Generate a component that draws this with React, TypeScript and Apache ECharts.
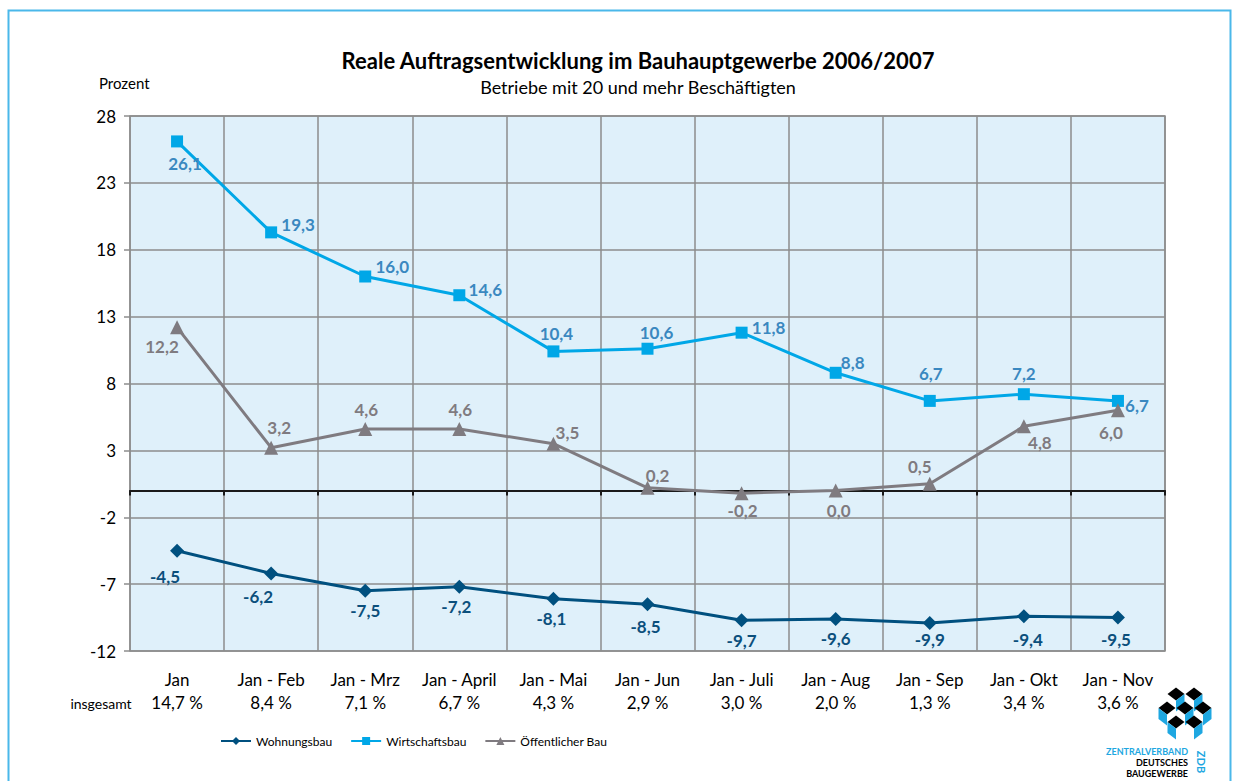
import React, { useEffect, useRef } from "react";
import * as echarts from "echarts";

const categories = ["Jan", "Jan - Feb", "Jan - Mrz", "Jan - April", "Jan - Mai", "Jan - Jun", "Jan - Juli", "Jan - Aug", "Jan - Sep", "Jan - Okt", "Jan - Nov"];
const totals = ["14,7 %", "8,4 %", "7,1 %", "6,7 %", "4,3 %", "2,9 %", "3,0 %", "2,0 %", "1,3 %", "3,4 %", "3,6 %"];
const wohnungsbau = [-4.5, -6.2, -7.5, -7.2, -8.1, -8.5, -9.7, -9.6, -9.9, -9.4, -9.5];
const wirtschaftsbau = [26.1, 19.3, 16.0, 14.6, 10.4, 10.6, 11.8, 8.8, 6.7, 7.2, 6.7];
const oeffentlich = [12.2, 3.2, 4.6, 4.6, 3.5, 0.2, -0.2, 0.0, 0.5, 4.8, 6.0];

// label offsets (styling only)
const wohnOffsets = [[-12, 26], [-13, 23], [0, 20], [-3, 20], [-2, 20], [-2, 22], [0, 20], [0, 20], [0, 17], [4, 23], [-2, 22]];
const wirtOffsets = [[8, 22], [27, -8], [27, -10], [26, -6], [3, -18], [9, -16], [27, -5], [17, -10], [1, -27], [0, -21], [19, 5]];
const oeffOffsets = [[-15, 19], [8, -20], [1, -19], [1, -19], [14, -11], [10, -12], [1, 17], [3, 20], [-10, -17], [16, 16], [-7, 22]];

const FONT = "Lato, 'Open Sans', sans-serif";
const fmt = (v: number) => v.toFixed(1).replace(".", ",");

function mkData(vals: number[], offs: number[][], color: string) {
  return vals.map((v, i) => ({
    value: v,
    label: {
      show: true,
      position: "inside",
      offset: offs[i],
      color,
      fontWeight: "bold",
      fontSize: 17,
      fontFamily: FONT,
      formatter: (p: any) => fmt(p.value),
    },
  }));
}

function cube(cx: number, cy: number, rightBlue: boolean) {
  const w = 8.5, h = 6.5, d = 11;
  return [
    { type: "polygon", shape: { points: [[cx - w, cy], [cx, cy - h], [cx + w, cy], [cx, cy + h]] }, style: { fill: "#000" } },
    {
      type: "polygon",
      shape: { points: rightBlue ? [[cx, cy + h], [cx + w, cy], [cx + w, cy + d], [cx, cy + h + d]] : [[cx - w, cy], [cx, cy + h], [cx, cy + h + d], [cx - w, cy + d]] },
      style: { fill: "#1ea7e1" },
    },
  ];
}

export default function App() {
  const ref = useRef<HTMLDivElement>(null);
  useEffect(() => {
    const chart = echarts.init(ref.current!, null, { renderer: "svg" });
    const logo = [
      ...cube(1176, 694, true),
      ...cube(1194, 694, true),
      ...cube(1167, 708, false),
      ...cube(1185, 708, true),
      ...cube(1203, 708, true),
      ...cube(1176, 722, false),
      ...cube(1194, 722, true),
    ];
    chart.setOption({
      animation: false,
      backgroundColor: "#fff",
      textStyle: { fontFamily: FONT },
      grid: {
        left: 130, right: 70, top: 116, bottom: 130,
        show: true, backgroundColor: "#dff0fa", borderColor: "#8c8c8c", borderWidth: 1.5,
      },
      legend: {
        left: 215, top: 730, itemWidth: 30, itemHeight: 10, itemGap: 18,
        textStyle: { fontSize: 12, color: "#000", fontFamily: FONT },
        data: ["Wohnungsbau", "Wirtschaftsbau", "Öffentlicher Bau"],
      },
      xAxis: [
        {
          type: "category", data: categories, position: "bottom",
          axisLine: { onZero: true, lineStyle: { color: "#1a1a1a", width: 2 } },
          axisTick: { show: true, length: 5, interval: 0, lineStyle: { color: "#1a1a1a", width: 2 } },
          axisLabel: { show: false },
          splitLine: { show: true, interval: 0, lineStyle: { color: "#8c8c8c", width: 1.5 } },
          z: 3,
        },
        {
          type: "category", data: categories, position: "bottom",
          axisLine: { show: false, onZero: false },
          axisTick: { show: false },
          splitLine: { show: false },
          axisLabel: {
            interval: 0, hideOverlap: false,
            margin: 17, fontSize: 17, color: "#000", lineHeight: 23, fontFamily: FONT,
            formatter: (v: string, i: number) => v + "\n" + totals[i],
          },
        },
      ],
      yAxis: {
        type: "value", min: -12, max: 28, interval: 5,
        axisLine: { show: false },
        axisTick: { show: true, length: 6, lineStyle: { color: "#8c8c8c", width: 1.5 } },
        axisLabel: { fontSize: 17, color: "#000", margin: 14, fontFamily: FONT },
        splitLine: { lineStyle: { color: "#8c8c8c", width: 1.5 } },
      },
      series: [
        {
          name: "Wohnungsbau", type: "line", data: mkData(wohnungsbau, wohnOffsets, "#0b4f7c"),
          symbol: "diamond", symbolSize: 14,
          lineStyle: { color: "#00507f", width: 3 }, itemStyle: { color: "#00507f" }, z: 5,
        },
        {
          name: "Wirtschaftsbau", type: "line", data: mkData(wirtschaftsbau, wirtOffsets, "#3a88c0"),
          symbol: "rect", symbolSize: 12,
          lineStyle: { color: "#00a7e7", width: 3 }, itemStyle: { color: "#00a7e7" }, z: 5,
        },
        {
          name: "Öffentlicher Bau", type: "line", data: mkData(oeffentlich, oeffOffsets, "#7f7b80"),
          symbol: "triangle", symbolSize: 14,
          lineStyle: { color: "#7f7b80", width: 3 }, itemStyle: { color: "#7f7b80" }, z: 5,
        },
      ],
      graphic: [
        { type: "rect", shape: { x: 8.5, y: 10.5, width: 1222, height: 800 }, style: { fill: "none", stroke: "#4ab8ea", lineWidth: 2 }, silent: true },
        { type: "text", x: 638, y: 60, style: { text: "Reale Auftragsentwicklung im Bauhauptgewerbe 2006/2007", font: "bold 22px " + FONT, fill: "#000", align: "center", verticalAlign: "middle" } },
        { type: "text", x: 638, y: 87, style: { text: "Betriebe mit 20 und mehr Beschäftigten", font: "18px " + FONT, fill: "#000", align: "center", verticalAlign: "middle" } },
        { type: "text", x: 99, y: 83, style: { text: "Prozent", font: "15px " + FONT, fill: "#000", align: "left", verticalAlign: "middle" } },
        { type: "text", x: 101, y: 703, style: { text: "insgesamt", font: "14px " + FONT, fill: "#000", align: "center", verticalAlign: "middle" } },
        ...logo,
        { type: "text", x: 1188, y: 751, style: { text: "ZENTRALVERBAND", font: "bold 9px " + FONT, fill: "#1ea7e1", align: "right", verticalAlign: "middle" } },
        { type: "text", x: 1188, y: 762, style: { text: "DEUTSCHES", font: "bold 9px " + FONT, fill: "#000", align: "right", verticalAlign: "middle" } },
        { type: "text", x: 1188, y: 773, style: { text: "BAUGEWERBE", font: "bold 9px " + FONT, fill: "#000", align: "right", verticalAlign: "middle" } },
        { type: "text", x: 1201, y: 762, rotation: -Math.PI / 2, style: { text: "ZDB", font: "bold 11px " + FONT, fill: "#1ea7e1", align: "center", verticalAlign: "middle" } },
      ],
    });
    return () => chart.dispose();
  }, []);
  return <div ref={ref} style={{ position: "fixed", left: 0, top: 0, width: 1235, height: 781 }} />;
}
